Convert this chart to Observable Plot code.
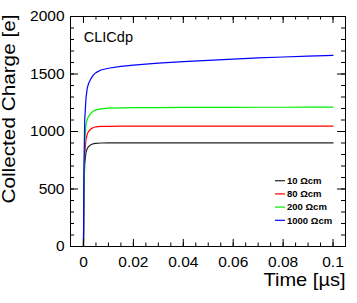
<!DOCTYPE html>
<html>
<head>
<meta charset="utf-8">
<script src="https://cdn.jsdelivr.net/npm/d3@7"></script>
<script src="https://cdn.jsdelivr.net/npm/@observablehq/plot@0.6"></script>
<style>
  html, body { margin: 0; padding: 0; background: #fff; }
  svg { display: block; }
</style>
</head>
<body>
<div id="chart"></div>
<script>
// ---- data ----
const seriesNames = ["10 Ωcm", "80 Ωcm", "200 Ωcm", "1000 Ωcm"];
const seriesColors = ["#222222", "#ff0000", "#00ee00", "#0000ff"];
const time = [0, 0.0002, 0.0005, 0.001, 0.0015, 0.002, 0.003, 0.004, 0.005, 0.007, 0.01, 0.015, 0.02, 0.03, 0.04, 0.05, 0.06, 0.07, 0.08, 0.09, 0.1];
const q10   = [0, 500, 720, 820, 850, 868, 886, 894, 897, 900, 901, 901, 901, 901, 901, 901, 901, 901, 901, 901, 901];
const q80   = [0, 520, 800, 930, 975, 1000, 1023, 1035, 1041, 1044, 1045, 1046, 1046, 1046, 1046, 1046, 1046, 1046, 1046, 1046, 1046];
const q200  = [0, 560, 900, 1060, 1105, 1130, 1160, 1178, 1188, 1197, 1203, 1206, 1207, 1208, 1209, 1210, 1210, 1211, 1211, 1212, 1212];
const q1000 = [0, 700, 1100, 1290, 1375, 1415, 1460, 1492, 1512, 1535, 1550, 1566, 1578, 1594, 1607, 1619, 1630, 1640, 1648, 1655, 1662];
const xMajorTicks = [0, 0.02, 0.04, 0.06, 0.08, 0.1];
const xTickLabels = ["0", "0.02", "0.04", "0.06", "0.08", "0.1"];
const yMajorTicks = [0, 500, 1000, 1500, 2000];
const yTickLabels = ["0", "500", "1000", "1500", "2000"];
const xMinorTicks = d3.range(0, 21).map(i => i * 0.005);
const yMinorTicks = d3.range(0, 21).map(i => i * 100);
const title = "CLICdp";
const xLabel = "Time [µs]";
const yLabel = "Collected Charge [e]";

const allSeries = [q10, q80, q200, q1000];
const rows = [];
allSeries.forEach((vals, s) => {
  vals.forEach((v, i) => rows.push({series: seriesNames[s], t: time[i], q: v}));
});

const font = "'Liberation Sans', Arial, Helvetica, sans-serif";
const W = 357, H = 303;
const mL = 70, mT = 16, mR = 12, mB = 57;
const innerW = W - mL - mR, innerH = H - mT - mB;

function legendMark(index, scales, values, dims) {
  const g = d3.create("svg:g").attr("font-family", font).attr("font-size", 9.5)
    .attr("font-weight", "bold").attr("text-anchor", "start");
  seriesNames.forEach((name, i) => {
    const y = 180.7 + 13.2 * i;
    g.append("line").attr("x1", 275).attr("x2", 285).attr("y1", y).attr("y2", y)
      .attr("stroke", scales.color(name)).attr("stroke-width", 1.2);
    g.append("text").attr("x", 287).attr("y", y).attr("dy", "0.35em").attr("fill", "#000")
      .attr("text-anchor", "start").text(name);
  });
  return g.node();
}

const chart = Plot.plot({
  width: W, height: H,
  marginLeft: mL, marginTop: mT, marginRight: mR, marginBottom: mB,
  style: {fontFamily: font, background: "#fff", color: "#000"},
  x: {domain: [-0.0052, 0.105]},
  y: {domain: [0, 2000]},
  color: {domain: seriesNames, range: seriesColors},
  marks: [
    Plot.line(rows, {x: "t", y: "q", z: "series", stroke: "series", strokeWidth: 1.2, curve: "linear"}),
    Plot.frame({stroke: "#000", strokeWidth: 1}),
    Plot.tickX(xMajorTicks, {x: d => d, insetTop: innerH - 7, stroke: "#000"}),
    Plot.tickX(xMinorTicks, {x: d => d, insetTop: innerH - 3.5, stroke: "#000"}),
    Plot.tickX(xMajorTicks, {x: d => d, insetBottom: innerH - 7, stroke: "#000"}),
    Plot.tickX(xMinorTicks, {x: d => d, insetBottom: innerH - 3.5, stroke: "#000"}),
    Plot.tickY(yMajorTicks, {y: d => d, insetRight: innerW - 8, stroke: "#000"}),
    Plot.tickY(yMinorTicks, {y: d => d, insetRight: innerW - 4, stroke: "#000"}),
    Plot.tickY(yMajorTicks, {y: d => d, insetLeft: innerW - 8, stroke: "#000"}),
    Plot.tickY(yMinorTicks, {y: d => d, insetLeft: innerW - 4, stroke: "#000"}),
    Plot.axisX(xMajorTicks, {tickSize: 0, tickPadding: 9, fontSize: 15.5, tickFormat: (d, i) => xTickLabels[i], label: null}),
    Plot.axisY(yMajorTicks, {tickSize: 0, tickPadding: 6, fontSize: 15.5, tickFormat: (d, i) => yTickLabels[i], label: null}),
    Plot.text([yLabel], {frameAnchor: "top-left", text: d => d, rotate: -90, textAnchor: "end", lineAnchor: "bottom", dx: -56, dy: -2, fontSize: 17.5, className: "ylabel"}),
    Plot.text([xLabel], {frameAnchor: "bottom-right", text: d => d, textAnchor: "end", lineAnchor: "bottom", dy: 39.5, fontSize: 19, className: "xlabel"}),
    Plot.text([title], {frameAnchor: "top-left", text: d => d, textAnchor: "start", lineAnchor: "bottom", dx: 13.3, dy: 25.7, fontSize: 14.5}),
    legendMark
  ]
});
// stretch the rotated y title along its direction, as in the reference rendering
d3.select(chart).selectAll("g.ylabel text").attr("textLength", 189).attr("lengthAdjust", "spacingAndGlyphs");
d3.select(chart).selectAll("g.xlabel text").attr("textLength", 82).attr("lengthAdjust", "spacingAndGlyphs");
document.getElementById("chart").appendChild(chart);
</script>
</body>
</html>
